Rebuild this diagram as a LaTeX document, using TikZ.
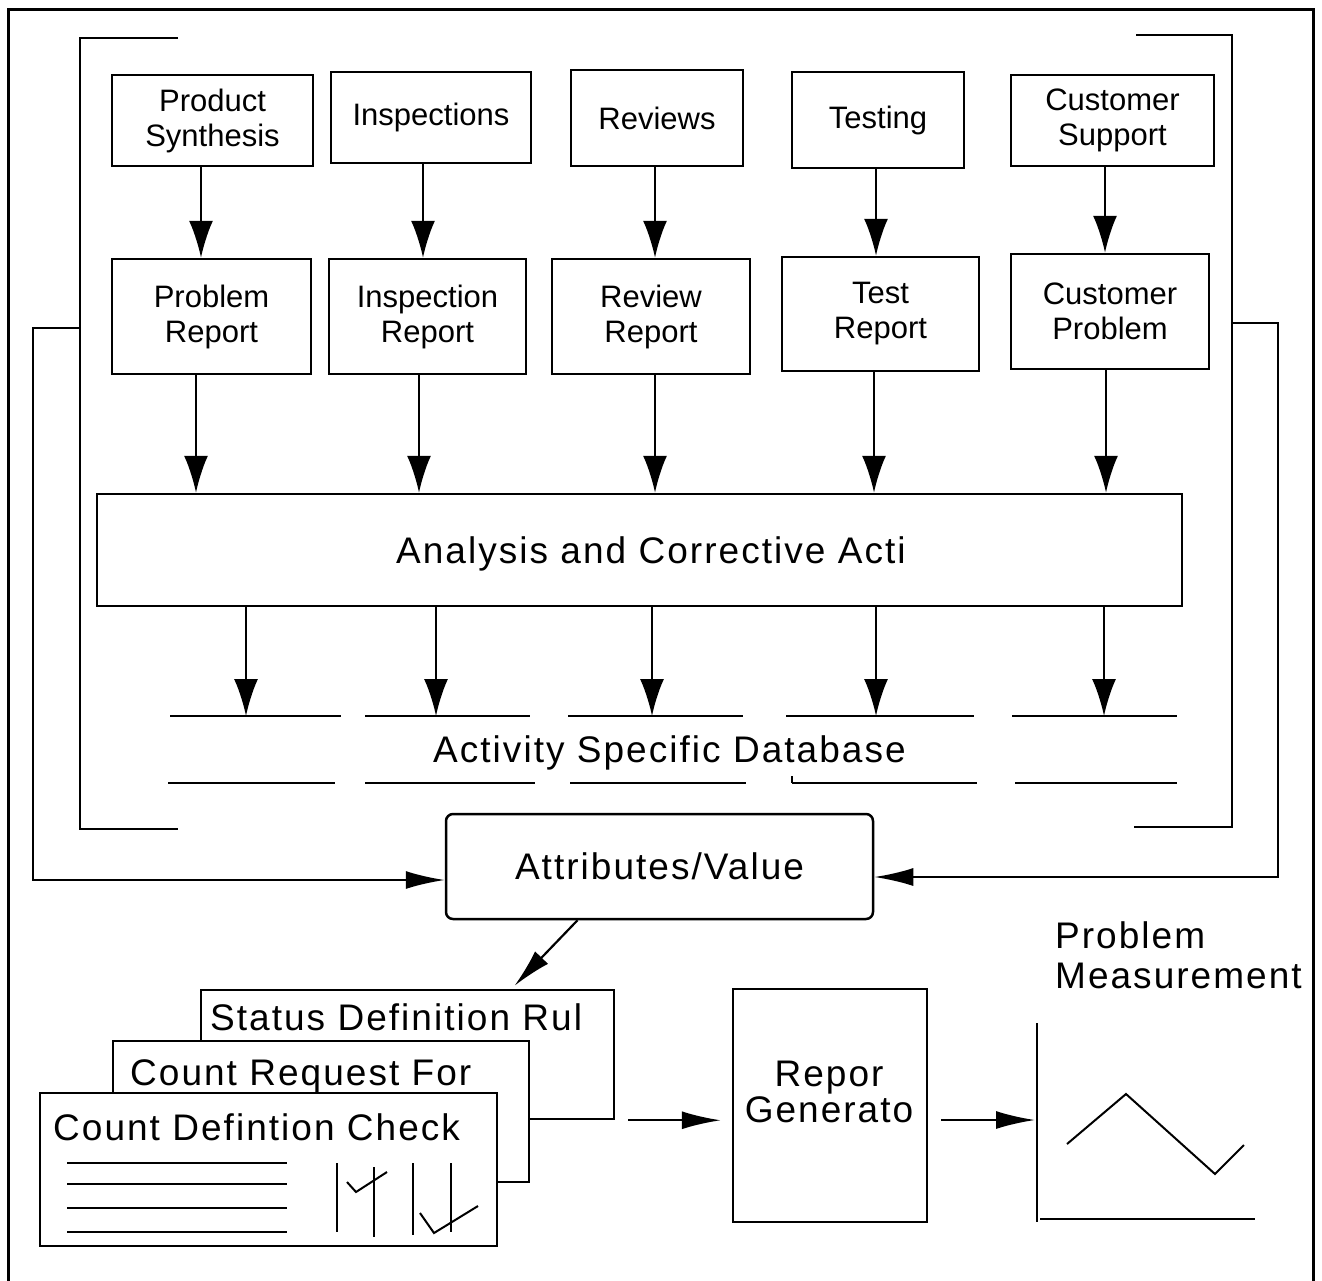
\documentclass[tikz,border=0pt]{standalone}
\usepackage{fontspec}
\setmainfont{Liberation Sans}
\newfontfamily\spacedfont[LetterSpace=5.5]{Liberation Sans}
\usetikzlibrary{positioning,arrows.meta}

\newcommand{\boxfont}{\fontsize{31}{35}\selectfont}
\newcommand{\bigfont}{\spacedfont\fontsize{37}{40}\selectfont}

\begin{document}
\begin{tikzpicture}[x=1pt, y=-1pt,
    box/.style={draw, line width=2.5pt, inner sep=0pt, align=center, font=\boxfont},
    card/.style={draw, line width=2.5pt, fill=white, inner sep=0pt},
    lbl/.style={inner sep=0pt, font=\bigfont},
    down/.style={-{Latex[length=37pt,width=24pt]}, line width=2.2pt},
    flow/.style={-{Latex[length=39pt,width=18pt]}, line width=2.2pt},
    rule/.style={line width=2.5pt}]
    \useasboundingbox[fill=white] (0,0) rectangle (1322,1280);
    \draw[line width=3pt] (8,1290) -- (8,9) -- (1313,9) -- (1313,1290);

    % sources
    \node[box, minimum width=201pt, minimum height=91pt] (synth) at (212.5,120.5) {Product\\Synthesis};
    \node[box, minimum width=200pt, minimum height=91pt] (insp) at (431,117.5) {Inspections};
    \node[box, minimum width=172pt, minimum height=96pt] (rev) at (657,118) {Reviews};
    \node[box, minimum width=172pt, minimum height=96pt] (test) at (878,120) {Testing};
    \node[box, minimum width=203pt, minimum height=91pt] (cust) at (1112.5,120.5) {Customer\\Support};

    % reports
    \node[box, minimum width=199pt, minimum height=115pt] (prob) at (211.5,316.5) {Problem\\Report};
    \node[box, minimum width=197pt, minimum height=115pt] (inspr) at (427.5,316.5) {Inspection\\Report};
    \node[box, minimum width=198pt, minimum height=115pt] (revr) at (651,316.5) {Review\\Report};
    \node[box, minimum width=197pt, minimum height=114pt] (testr) at (880.5,314) {Test\\Report};
    \node[box, minimum width=198pt, minimum height=115pt] (custp) at (1110,311.5) {Customer\\Problem};

    \node[box, minimum width=1085pt, minimum height=112pt] (ana) at (639.5,550) {};
    \node[lbl, anchor=base west] (anatext) at (396,563) {Analysis and Corrective Acti};

    \foreach \a/\b/\x in {synth/prob/201, insp/inspr/423, rev/revr/655, test/testr/876, cust/custp/1105}{
        \path (\x,0) coordinate (col);
        \draw[down] (\a.south -| col) -- (\b.north -| col);
    }
    \foreach \b/\x in {prob/196, inspr/419, revr/655, testr/874, custp/1106}{
        \path (\x,0) coordinate (col);
        \draw[down] (\b.south -| col) -- (ana.north -| col);
    }

    % databases
    \coordinate (dbtop) at (0,716);
    \foreach \x in {246,436,652,876,1104}{
        \path (\x,0) coordinate (col);
        \draw[down] (ana.south -| col) -- (dbtop -| col);
    }
    \foreach \l/\r/\ll/\rr in {170/341/168/335, 365/530/365/535, 568/743/570/746, 786/974/792/977, 1012/1177/1015/1177}{
        \draw[rule] (\l,716) -- (\r,716);
        \draw[rule] (\ll,783) -- (\rr,783);
    }
    \draw[rule] (792,776) -- (792,783);
    \node[lbl, anchor=base west] (dbtext) at (433,762) {Activity Specific Database};

    % brackets and feedback
    \draw[rule] (178,38) -- (80,38) -- (80,829) -- (178,829);
    \draw[rule] (1136,35) -- (1232,35) -- (1232,827) -- (1134,827);
    \coordinate (lbr) at (80,328);
    \coordinate (rbr) at (1232,323);

    \node[box, rounded corners=7pt, font=\bigfont, minimum width=427pt, minimum height=105pt] (attr) at (659.5,866.5) {Attributes/Value};
    \draw[flow] (lbr) -- ++(-47,0) |- ([yshift=-13.5pt]attr.west);
    \draw[flow] (rbr) -- ++(46,0) |- ([yshift=-10.5pt]attr.east);

    % forms
    \node[card, minimum width=413pt, minimum height=129pt] (stat) at (407.5,1054.5) {};
    \node[lbl, anchor=base west] (stattext) at (210,1030) {Status Definition Rul};
    \node[card, minimum width=416pt, minimum height=141pt] (creq) at (321,1111.5) {};
    \node[lbl, anchor=base west] (creqtext) at (130,1085) {Count Request For};
    \node[card, minimum width=457pt, minimum height=153pt] (cchk) at (268.5,1169.5) {};
    \node[lbl, anchor=base west] (cchktext) at (53,1140) {Count Defintion Check};
    \foreach \y in {1163,1184,1208,1232}
        \draw[rule] (67,\y) -- (287,\y);
    \draw[line width=2.2pt] (337,1163) -- (337,1232) (374,1167) -- (374,1237)
        (413,1163) -- (413,1235) (451,1163) -- (451,1232);
    \draw[line width=2pt] (347,1182) -- (356,1192) -- (387,1172);
    \draw[line width=2pt] (420,1213) -- (434,1233) -- (478,1206);

    \draw[flow] ([xshift=-82pt]attr.south) -- ([xshift=107pt,yshift=3pt]stat.north);

    % report
    \node[box, minimum width=194pt, minimum height=233pt] (rep) at (830,1105.5) {};
    \node[lbl, align=center, anchor=north] (reptext) at (829,1060.5) {Repor\\[-4pt]Generato};
    \draw[flow, shorten >=11pt] ([xshift=13pt]stat.south east) -- (rep.west |- stat.south east);

    % chart
    \coordinate (yax) at (1037,1120);
    \draw[rule] (1037,1023) -- (1037,1222);
    \draw[rule] (1040,1219) -- (1255,1219);
    \draw[line width=2pt] (1067,1144) -- (1126,1094) -- (1215,1174) -- (1244,1145);
    \draw[flow] ([xshift=13pt]rep.east |- yax) -- ([xshift=-2pt]yax);
    \node[lbl, align=left, anchor=north west] (meas) at (1055,921.5) {Problem\\Measurement};
\end{tikzpicture}
\end{document}
